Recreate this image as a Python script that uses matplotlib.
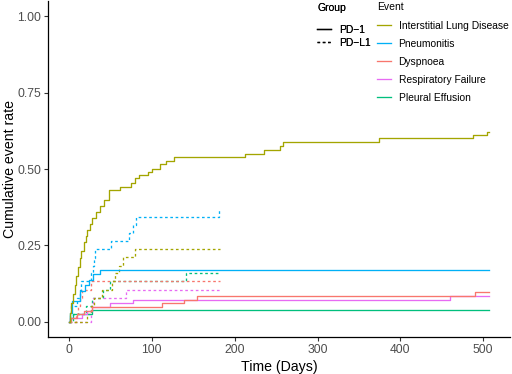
import matplotlib
matplotlib.use("Agg")
import matplotlib.pyplot as plt
from matplotlib.lines import Line2D

plt.rcParams['font.family'] = ['Liberation Sans', 'DejaVu Sans']

# ---- data (time in days, cumulative event rate) ----
event_names = ["Interstitial Lung Disease", "Pneumonitis", "Dyspnoea",
               "Respiratory Failure", "Pleural Effusion"]
event_colors = ["#A3A500", "#00B0F6", "#F8766D", "#E76BF3", "#00BF7D"]
group_names = ["PD\u22121", "PD\u2212L1"]

# PD-1
ild_pd1_t = [0, 1, 3, 5, 7, 9, 11, 13, 15, 18, 20, 22, 25, 28, 32, 38, 42, 48, 62, 75, 80,
             85, 95, 100, 110, 117, 127, 213, 235, 255, 258, 374, 488, 505, 507]
ild_pd1_v = [0, .03, .06, .09, .12, .15, .18, .21, .23, .26, .28, .30, .32, .34, .36, .38, .40,
             .43, .44, .455, .47, .48, .49, .50, .515, .527, .538, .55, .562, .575, .587, .60,
             .612, .62, .62]
pneu_pd1_t = [0, 1, 4, 13, 19, 24, 29, 38, 507]
pneu_pd1_v = [0, .03, .067, .10, .12, .138, .155, .168, .168]
dysp_pd1_t = [0, 3, 10, 18, 28, 112, 139, 154, 490, 507]
dysp_pd1_v = [0, .012, .024, .036, .048, .06, .072, .084, .096, .096]
resp_pd1_t = [0, 1, 16, 22, 28, 49, 77, 460, 507]
resp_pd1_v = [0, .012, .024, .036, .048, .06, .072, .084, .084]
pleu_pd1_t = [0, 1, 5, 28, 507]
pleu_pd1_v = [0, .012, .024, .037, .037]

# PD-L1
ild_pdl1_t = [0, 22, 26, 30, 40, 52, 56, 60, 65, 80, 182]
ild_pdl1_v = [0, .026, .053, .079, .105, .132, .158, .184, .211, .237, .237]
pneu_pdl1_t = [0, 1, 3, 10, 13, 14, 27, 29, 30, 31, 51, 73, 77, 81, 181, 182]
pneu_pdl1_v = [0, .026, .053, .079, .105, .132, .158, .184, .21, .237, .264, .29, .316, .342,
               .366, .366]
dysp_pdl1_t = [0, 8, 11, 13, 16, 26, 182]
dysp_pdl1_v = [0, .026, .053, .079, .105, .132, .132]
resp_pdl1_t = [0, 26, 27, 29, 69, 182]
resp_pdl1_v = [0, .026, .053, .079, .105, .105]
pleu_pdl1_t = [0, 5, 20, 28, 41, 49, 141, 182]
pleu_pdl1_v = [0, .026, .053, .079, .105, .132, .158, .158]

series_pd1 = [(ild_pd1_t, ild_pd1_v), (pneu_pd1_t, pneu_pd1_v), (dysp_pd1_t, dysp_pd1_v),
              (resp_pd1_t, resp_pd1_v), (pleu_pd1_t, pleu_pd1_v)]
series_pdl1 = [(ild_pdl1_t, ild_pdl1_v), (pneu_pdl1_t, pneu_pdl1_v), (dysp_pdl1_t, dysp_pdl1_v),
               (resp_pdl1_t, resp_pdl1_v), (pleu_pdl1_t, pleu_pdl1_v)]

x_ticks = [0, 100, 200, 300, 400, 500]
y_ticks = [0.00, 0.25, 0.50, 0.75, 1.00]

W, H = 512, 374
fig = plt.figure(figsize=(W / 100, H / 100), dpi=100)
ax = fig.add_axes([48 / W, 1 - 337 / H, (510 - 48) / W, (337 - 1) / H])

dash = (0, (2.0, 2.0))
lw = 0.95
for i in reversed(range(5)):
    t, v = series_pdl1[i]
    ax.step(t, v, where='post', color=event_colors[i], lw=lw, linestyle=dash)
for i in reversed(range(5)):
    t, v = series_pd1[i]
    ax.step(t, v, where='post', color=event_colors[i], lw=lw)

ax.set_xlim(-25.35, 532.35)
ax.set_ylim(-0.05, 1.05)
ax.set_xticks(x_ticks)
ax.set_xticklabels([str(x) for x in x_ticks])
ax.set_yticks(y_ticks)
ax.set_yticklabels([f"{y:.2f}" for y in y_ticks])

for s in ['top', 'right']:
    ax.spines[s].set_visible(False)
for s in ['left', 'bottom']:
    ax.spines[s].set_linewidth(0.9)
    ax.spines[s].set_color('black')
ax.tick_params(axis='both', length=2.6, width=0.8, color='#333333', labelsize=8.7,
               labelcolor='#4D4D4D', pad=2.2)
ax.set_xlabel("Time (Days)", fontsize=10.2, labelpad=3)
ax.set_ylabel("Cumulative event rate", fontsize=10.2, labelpad=0.5)

# legends
grp_handles = [Line2D([], [], color='black', lw=lw),
               Line2D([], [], color='black', lw=lw, linestyle=dash)]
leg1 = fig.legend(grp_handles, group_names, title="Group", loc='upper left',
                  bbox_to_anchor=(317 / W, 1 - 3 / H), frameon=False, fontsize=7.4,
                  title_fontsize=7.5, handlelength=1.4, handletextpad=0.75,
                  labelspacing=0.25, borderpad=0, borderaxespad=0, alignment='left')
leg1._legend_box.sep = 8.7
evt_handles = [Line2D([], [], color=c, lw=lw) for c in event_colors]
leg2 = fig.legend(evt_handles, event_names, title="Event", loc='upper left',
                  bbox_to_anchor=(377 / W, 1 - 2 / H), frameon=False, fontsize=7.4,
                  title_fontsize=7.5, handlelength=1.4, handletextpad=0.7,
                  labelspacing=0.78, borderpad=0, borderaxespad=0, alignment='left')
leg2._legend_box.sep = 6.5
fig.add_artist(leg1)

fig.savefig("out.png", dpi=100)
